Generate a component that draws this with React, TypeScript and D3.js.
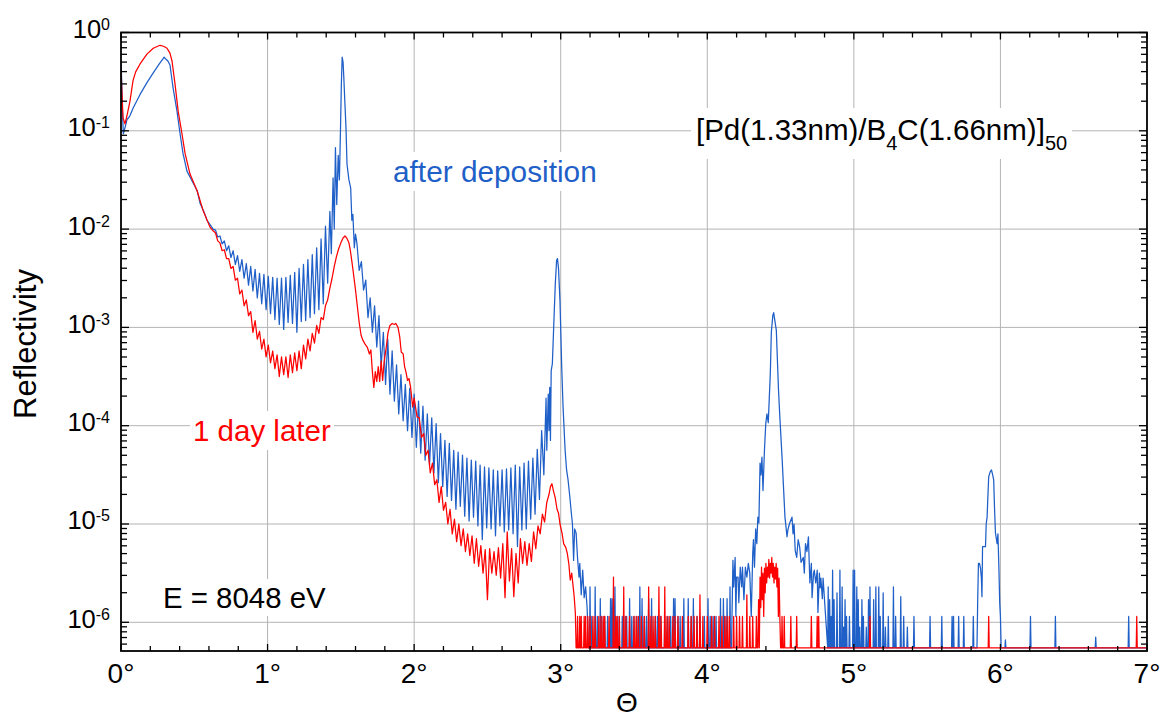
import React, { useLayoutEffect, useRef, useState } from "react";
import * as d3 from "d3";

type P = [number, number];

// ---------- data: theta (deg), log10(reflectivity) ----------
const FLOOR_EXP = -6.26; // zero-count level of the detector

const xTickLabels = ["0°", "1°", "2°", "3°", "4°", "5°", "6°", "7°"];
const yTickExponents = [0, -1, -2, -3, -4, -5, -6];

// after deposition (blue)
const blueLow: P[] = [[0.000,-0.30],[0.005,-0.50],[0.010,-0.80],[0.016,-1.03],[0.027,-0.97],[0.040,-0.89],[0.060,-0.85],[0.082,-0.77],[0.130,-0.63],[0.177,-0.51],[0.220,-0.41],[0.266,-0.31],[0.285,-0.27],[0.294,-0.25],[0.305,-0.27],[0.320,-0.29],[0.334,-0.33],[0.345,-0.45],[0.355,-0.56],[0.382,-0.80],[0.403,-1.03],[0.423,-1.23],[0.450,-1.41],[0.485,-1.51],[0.520,-1.61],[0.540,-1.74],[0.565,-1.82],[0.587,-1.91],[0.610,-1.96],[0.628,-2.00]];
const blueFringe1Start = 0.645, blueFringe1Step = 0.015;
const blueFringe1: number[] = [-2.01,-2.08,-2.07,-2.15,-2.12,-2.22,-2.17,-2.29,-2.22,-2.36,-2.27,-2.43,-2.31,-2.50,-2.35,-2.57,-2.38,-2.63,-2.41,-2.70,-2.45,-2.76,-2.46,-2.82,-2.48,-2.86,-2.49,-2.92,-2.50,-2.97,-2.50,-3.02,-2.49,-2.95,-2.47,-2.96,-2.44,-3.05,-2.40,-2.94,-2.36,-2.93,-2.31,-2.90,-2.26,-2.86,-2.19,-2.82,-2.10,-2.76,-1.97,-2.55,-1.82];
const bluePeak1: P[] = [[1.435,-2.25],[1.447,-1.48],[1.455,-2.00],[1.463,-1.17],[1.472,-1.75],[1.482,-1.25],[1.490,-1.50],[1.497,-1.03],[1.503,-0.55],[1.509,-0.25],[1.515,-0.30],[1.520,-0.45],[1.527,-0.70],[1.535,-0.97],[1.542,-1.34],[1.555,-1.50],[1.567,-1.58],[1.575,-1.91],[1.582,-1.85],[1.592,-2.19],[1.600,-2.05]];
const blueFringe2Start = 1.61, blueFringe2Step = 0.015;
const blueFringe2: number[] = [-2.15,-2.42,-2.33,-2.62,-2.52,-2.90,-2.70,-3.05,-2.78,-3.20,-2.88,-3.40,-3.05,-3.58,-3.12,-3.68,-3.24,-3.75,-3.38,-3.88,-3.48,-3.95,-3.58,-4.05,-3.62,-4.12,-3.68,-4.22,-3.75,-4.28,-3.80,-4.35,-3.88,-4.40,-3.92,-4.48,-3.98,-4.58,-4.08,-4.62,-4.15,-4.72,-4.18,-4.76,-4.25,-4.85,-4.27,-4.82,-4.30,-4.92,-4.33,-4.97,-4.35,-4.93,-4.36,-5.02,-4.40,-5.16,-4.42,-5.04,-4.43,-5.05,-4.45,-5.12,-4.46,-5.02,-4.45,-5.08,-4.44,-5.06,-4.43,-5.10,-4.40,-5.23,-4.42,-5.06,-4.38,-5.05,-4.36,-4.95,-4.33,-4.90,-4.24,-4.75,-4.05,-4.50,-3.72];
const bluePeak2: P[] = [[2.905,-4.25],[2.915,-3.68],[2.920,-4.05],[2.925,-3.61],[2.930,-4.15],[2.935,-3.44],[2.943,-3.37],[2.952,-3.00],[2.963,-2.56],[2.972,-2.32],[2.978,-2.30],[2.985,-2.40],[2.995,-2.73],[3.007,-3.41],[3.016,-3.81],[3.030,-4.25],[3.040,-4.45],[3.050,-4.55],[3.062,-4.72],[3.070,-4.85],[3.080,-5.00],[3.088,-5.37],[3.095,-5.05],[3.105,-5.09],[3.115,-5.35],[3.125,-5.54],[3.130,-5.40],[3.140,-5.72],[3.150,-5.47],[3.160,-5.75],[3.170,-5.64],[3.180,-5.85],[3.190,-6.26]];
const blueNoise1: P[] = [[3.200,-5.64],[3.212,-5.94],[3.235,-5.64],[3.250,-5.94],[3.270,-5.76],[3.280,-5.94],[3.300,-5.94],[3.320,-5.94],[3.340,-5.76],[3.350,-5.76],[3.360,-5.76],[3.370,-5.64],[3.390,-5.94],[3.420,-5.94],[3.440,-5.94],[3.450,-5.94],[3.470,-5.76],[3.485,-5.94],[3.500,-5.94],[3.520,-5.94],[3.540,-5.64],[3.555,-5.76],[3.570,-5.94],[3.585,-5.94],[3.600,-5.76],[3.620,-5.76],[3.645,-5.94],[3.660,-5.94],[3.680,-5.94],[3.710,-5.94],[3.730,-5.94],[3.750,-5.94],[3.770,-5.76],[3.780,-5.76],[3.800,-5.94],[3.815,-5.94],[3.840,-5.76],[3.870,-5.76],[3.890,-5.94],[3.905,-5.76],[3.930,-5.94],[3.950,-5.94],[3.980,-5.94],[4.005,-5.76],[4.020,-5.94],[4.040,-5.94],[4.060,-5.94],[4.090,-5.76],[4.110,-5.76],[4.120,-5.94],[4.135,-5.76],[4.155,-5.64]];
const bluePeak3: P[] = [[4.165,-6.26],[4.175,-5.37],[4.180,-5.64],[4.190,-5.34],[4.195,-5.94],[4.200,-5.54],[4.210,-5.54],[4.215,-5.80],[4.225,-5.44],[4.235,-5.64],[4.240,-5.44],[4.250,-5.77],[4.260,-5.44],[4.270,-5.54],[4.280,-5.40],[4.290,-5.50],[4.300,-5.94],[4.310,-5.30],[4.315,-5.16],[4.322,-5.44],[4.330,-5.05],[4.338,-5.20],[4.345,-4.93],[4.352,-4.99],[4.360,-4.38],[4.366,-4.50],[4.373,-4.32],[4.380,-4.66],[4.390,-4.25],[4.399,-3.98],[4.407,-3.88],[4.416,-3.97],[4.430,-3.47],[4.437,-3.05],[4.447,-2.88],[4.453,-2.85],[4.460,-2.92],[4.471,-3.03],[4.486,-3.64],[4.495,-3.91],[4.510,-4.32],[4.530,-4.93],[4.544,-5.13],[4.550,-5.06],[4.560,-5.00],[4.578,-4.93],[4.585,-5.10],[4.592,-5.00],[4.600,-5.27],[4.610,-5.34],[4.620,-5.16],[4.630,-5.23],[4.640,-5.39],[4.655,-5.34],[4.662,-5.50],[4.670,-5.20],[4.680,-5.28],[4.690,-5.13],[4.700,-5.60],[4.710,-5.40],[4.715,-5.75],[4.725,-5.50],[4.730,-5.47],[4.740,-5.60],[4.750,-5.47],[4.755,-5.90],[4.765,-5.50],[4.770,-5.65],[4.775,-5.55],[4.785,-5.76],[4.790,-5.55]];
const blueNoise2: P[] = [[4.825,-5.64],[4.835,-5.77],[4.845,-5.94],[4.855,-5.47],[4.865,-5.77],[4.885,-5.70],[4.905,-5.47],[4.920,-5.64],[4.930,-6.05],[4.940,-5.77],[4.950,-5.94],[4.970,-5.94],[4.995,-5.47],[5.005,-5.47],[5.020,-5.64],[5.030,-5.77],[5.040,-6.05],[5.055,-5.77],[5.065,-5.94],[5.085,-6.05],[5.100,-5.77],[5.110,-5.64],[5.135,-5.77],[5.150,-5.64],[5.170,-5.64],[5.180,-5.94],[5.200,-5.70],[5.215,-6.05],[5.235,-5.94],[5.270,-5.64],[5.285,-5.94],[5.320,-5.74],[5.340,-5.94],[5.365,-6.05],[5.410,-5.94],[5.520,-5.94],[5.600,-5.94],[5.670,-5.94],[5.680,-5.94],[5.715,-5.94],[5.750,-5.94],[5.815,-5.94]];
const bluePeak4: P[] = [[5.840,-6.26],[5.845,-5.77],[5.850,-5.40],[5.857,-5.40],[5.864,-5.45],[5.870,-5.55],[5.874,-5.74],[5.878,-5.23],[5.890,-5.23],[5.898,-5.23],[5.903,-5.00],[5.909,-4.93],[5.915,-4.70],[5.920,-4.52],[5.930,-4.47],[5.939,-4.45],[5.947,-4.50],[5.954,-4.55],[5.960,-4.85],[5.966,-5.09],[5.972,-5.15],[5.977,-5.20],[5.983,-5.10],[5.990,-5.47],[5.995,-5.80],[6.000,-5.94],[6.005,-6.26]];
const blueNoise3: P[] = [[6.034,-6.18],[6.205,-5.94],[6.375,-5.94],[6.650,-6.15],[6.875,-5.94]];

// 1 day later (red)
const redLow: P[] = [[0.000,-0.38],[0.006,-0.60],[0.014,-0.87],[0.027,-0.93],[0.040,-0.85],[0.061,-0.70],[0.082,-0.49],[0.100,-0.40],[0.130,-0.32],[0.177,-0.22],[0.220,-0.16],[0.266,-0.13],[0.290,-0.14],[0.314,-0.16],[0.334,-0.21],[0.348,-0.29],[0.369,-0.53],[0.390,-0.80],[0.416,-1.03],[0.437,-1.23],[0.471,-1.44],[0.519,-1.61],[0.560,-1.81],[0.607,-1.98],[0.630,-2.02]];
const redFringe1Start = 0.645, redFringe1Step = 0.015;
const redFringe1: number[] = [-2.04,-2.12,-2.14,-2.22,-2.21,-2.30,-2.30,-2.40,-2.38,-2.52,-2.50,-2.66,-2.62,-2.78,-2.72,-2.88,-2.84,-3.05,-2.93,-3.12,-3.04,-3.22,-3.12,-3.30,-3.18,-3.36,-3.24,-3.42,-3.28,-3.50,-3.30,-3.48,-3.30,-3.51,-3.28,-3.46,-3.26,-3.44,-3.24,-3.42,-3.18,-3.32,-3.12,-3.24,-3.06,-3.16,-2.98,-3.06,-2.90,-2.92,-2.78,-2.72,-2.60];
const redPeak1: P[] = [[1.440,-2.50],[1.455,-2.38],[1.470,-2.28],[1.485,-2.20],[1.500,-2.14],[1.515,-2.09],[1.528,-2.07],[1.540,-2.09],[1.555,-2.14],[1.565,-2.22],[1.578,-2.36],[1.590,-2.50],[1.600,-2.62],[1.612,-2.78],[1.625,-2.95],[1.638,-3.08],[1.650,-3.13],[1.665,-3.17],[1.680,-3.20],[1.695,-3.27],[1.705,-3.23],[1.715,-3.45],[1.725,-3.61],[1.735,-3.45],[1.745,-3.55],[1.755,-3.40],[1.765,-3.55],[1.775,-3.34],[1.785,-3.54],[1.795,-3.35],[1.810,-3.20],[1.822,-3.05],[1.835,-2.98],[1.850,-2.96],[1.865,-2.97],[1.875,-2.96],[1.890,-3.00],[1.902,-3.10],[1.912,-3.25],[1.925,-3.27],[1.935,-3.40],[1.945,-3.46],[1.955,-3.54],[1.965,-3.52],[1.975,-3.60],[1.990,-3.81],[2.000,-3.72],[2.020,-3.91]];
const redFringe2Start = 2.035, redFringe2Step = 0.015;
const redFringe2: number[] = [-3.92,-4.12,-4.08,-4.30,-4.25,-4.48,-4.38,-4.60,-4.55,-4.78,-4.62,-4.86,-4.78,-5.00,-4.85,-5.10,-4.95,-5.18,-5.00,-5.22,-5.05,-5.28,-5.10,-5.32,-5.12,-5.40,-5.15,-5.43,-5.22,-5.50,-5.26,-5.77,-5.25,-5.50,-5.28,-5.52,-5.24,-5.55,-5.20,-5.75,-5.08,-5.58,-5.25,-5.74,-5.30,-5.60,-5.15,-5.40,-5.18,-5.42,-5.20,-5.38,-5.08,-5.25,-5.02,-5.10,-4.90,-4.98,-4.78];
const redPeak2: P[] = [[2.920,-4.70],[2.930,-4.62],[2.940,-4.59],[2.950,-4.66],[2.962,-4.73],[2.975,-4.85],[2.985,-4.89],[2.995,-5.00],[3.010,-5.10],[3.020,-5.20],[3.035,-5.24],[3.045,-5.30],[3.055,-5.40],[3.065,-5.57],[3.075,-5.50],[3.085,-5.64],[3.092,-5.74],[3.100,-5.91],[3.105,-6.26]];
const redNoise1: P[] = [[3.115,-5.94],[3.130,-5.94],[3.140,-5.94],[3.160,-5.94],[3.170,-5.94],[3.185,-5.94],[3.200,-5.94],[3.220,-5.94],[3.235,-5.94],[3.260,-5.94],[3.275,-5.94],[3.290,-5.94],[3.300,-5.94],[3.330,-5.94],[3.360,-5.54],[3.375,-5.94],[3.385,-5.94],[3.400,-5.94],[3.430,-5.64],[3.445,-5.94],[3.470,-5.94],[3.500,-5.94],[3.515,-5.94],[3.530,-5.94],[3.550,-5.94],[3.570,-5.94],[3.600,-5.64],[3.615,-5.94],[3.630,-5.94],[3.645,-5.94],[3.670,-5.64],[3.685,-5.94],[3.710,-5.64],[3.725,-5.94],[3.740,-5.94],[3.765,-5.94],[3.780,-5.94],[3.800,-5.94],[3.830,-5.94],[3.870,-5.94],[3.890,-5.94],[3.910,-5.94],[3.930,-5.94],[3.950,-5.72],[3.970,-5.94],[4.000,-5.94],[4.030,-5.94],[4.050,-5.94],[4.080,-5.94],[4.100,-5.94],[4.120,-5.94],[4.135,-5.94],[4.150,-5.94],[4.180,-5.94],[4.200,-5.94],[4.220,-5.94],[4.240,-5.94],[4.270,-5.72],[4.290,-5.94],[4.310,-5.94],[4.335,-5.94]];
const redPeak3: P[] = [[4.345,-6.26],[4.350,-5.77],[4.355,-6.26],[4.360,-5.54],[4.365,-5.85],[4.370,-5.44],[4.375,-5.77],[4.380,-5.50],[4.385,-5.94],[4.390,-5.45],[4.395,-5.70],[4.400,-5.40],[4.405,-5.60],[4.410,-5.44],[4.415,-5.54],[4.420,-5.36],[4.425,-5.55],[4.430,-5.40],[4.435,-5.50],[4.440,-5.34],[4.445,-5.54],[4.450,-5.40],[4.455,-5.60],[4.460,-5.44],[4.465,-5.56],[4.470,-5.40],[4.475,-5.64],[4.480,-5.45],[4.485,-5.94],[4.490,-5.55],[4.495,-5.94],[4.500,-6.26]];
const redNoise2: P[] = [[4.510,-5.94],[4.525,-5.94],[4.570,-5.94],[4.610,-5.94],[4.710,-5.94],[4.750,-5.94],[4.760,-5.94],[5.110,-5.94],[5.920,-5.94],[6.930,-5.94]];

// ---------- helpers ----------
function scan(start: number, step: number, values: number[]): P[] {
  return values.map((v, i) => [Math.round((start + i * step) * 10000) / 10000, v] as P);
}
function counts(list: P[]): P[] {
  const out: P[] = [];
  list.forEach(([t, v]) => {
    out.push([t - 0.0035, FLOOR_EXP], [t, v], [t + 0.0035, FLOOR_EXP]);
  });
  return out;
}

const blueSeries: P[] = [
  ...blueLow,
  ...scan(blueFringe1Start, blueFringe1Step, blueFringe1),
  ...bluePeak1,
  ...scan(blueFringe2Start, blueFringe2Step, blueFringe2),
  ...bluePeak2,
  ...counts(blueNoise1),
  ...bluePeak3,
  ...counts(blueNoise2),
  ...bluePeak4,
  ...counts(blueNoise3),
  [7.0, FLOOR_EXP],
];
const redSeries: P[] = [
  ...redLow,
  ...scan(redFringe1Start, redFringe1Step, redFringe1),
  ...redPeak1,
  ...scan(redFringe2Start, redFringe2Step, redFringe2),
  ...redPeak2,
  ...counts(redNoise1),
  ...redPeak3,
  ...counts(redNoise2),
  [7.0, FLOOR_EXP],
];

const W = 1161, H = 719;
const PL = 121, PR = 1147, PT = 32.5, PB = 651;
const FONT = "'Liberation Sans', Arial, sans-serif";
const BLUE = "#1f5fc8";
const RED = "#ff0000";

function BoxedText(props: any) {
  const { pad = 3, children, ...rest } = props;
  const ref = useRef<SVGTextElement>(null);
  const [bb, setBb] = useState<{ x: number; y: number; w: number; h: number } | null>(null);
  useLayoutEffect(() => {
    if (ref.current) {
      const b = ref.current.getBBox();
      setBb({ x: b.x, y: b.y, w: b.width, h: b.height });
    }
  }, []);
  return (
    <g>
      {bb && <rect x={bb.x - pad} y={bb.y - pad} width={bb.w + 2 * pad} height={bb.h + 2 * pad} fill="white" />}
      <text ref={ref} {...rest}>{children}</text>
    </g>
  );
}

export default function App() {
  const x = d3.scaleLinear().domain([0, 7]).range([PL, PR]);
  const y = d3.scaleLog().domain([Math.pow(10, -6.292), 1]).range([PB, PT]);
  const line = d3.line<P>().x((d) => x(d[0])).y((d) => y(Math.pow(10, d[1])));

  const xMinor = d3.range(0, 35 + 1).map((i) => i * 0.2);
  const yMinor: number[] = [];
  for (let e = -7; e <= 0; e++) for (let m = 2; m <= 9; m++) {
    const v = m * Math.pow(10, e);
    if (v > Math.pow(10, -6.292) && v < 1) yMinor.push(v);
  }
  const decades = yTickExponents.map((e) => Math.pow(10, e));
  const gridX = d3.range(1, 7);
  const gridY = yTickExponents.filter((e) => e < 0).map((e) => Math.pow(10, e));

  return (
    <svg width={W} height={H} style={{ position: "absolute", left: 0, top: 0, background: "white" }} fontFamily={FONT}>
      <defs>
        <clipPath id="plotClip">
          <rect x={PL} y={PT} width={PR - PL} height={PB - PT} />
        </clipPath>
      </defs>
      <rect x={0} y={0} width={W} height={H} fill="white" />
      {/* grid */}
      <g stroke="#b4b4b4" strokeWidth={1}>
        {gridX.map((g) => <line key={"gx" + g} x1={x(g)} x2={x(g)} y1={PT} y2={PB} />)}
        {gridY.map((g, i) => <line key={"gy" + i} x1={PL} x2={PR} y1={y(g)} y2={y(g)} />)}
      </g>
      {/* annotations */}
      <BoxedText x={696} y={140} fontSize={29.5} fill="#000" pad={5}>
        <tspan>[Pd(1.33nm)/B</tspan>
        <tspan fontSize={20} dy={10}>4</tspan>
        <tspan dy={-10}>C(1.66nm)]</tspan>
        <tspan fontSize={20} dy={10}>50</tspan>
      </BoxedText>
      <BoxedText x={393} y={182} fontSize={29.8} fill={BLUE} pad={3}>after deposition</BoxedText>
      <BoxedText x={193} y={441} fontSize={29.5} fill={RED} pad={3}>1 day later</BoxedText>
      <BoxedText x={163} y={608} fontSize={29.4} fill="#000" pad={2}>E = 8048 eV</BoxedText>
      {/* data */}
      <g clipPath="url(#plotClip)" fill="none" strokeLinejoin="round">
        <path d={line(blueSeries) || ""} stroke={BLUE} strokeWidth={1.25} />
        <path d={line(redSeries) || ""} stroke={RED} strokeWidth={1.25} />
      </g>
      {/* ticks */}
      <g stroke="#000" strokeWidth={1.3}>
        {xMinor.map((t, i) => {
          const len = Math.abs(t - Math.round(t)) < 1e-6 ? 7 : 5;
          return (
            <g key={"xt" + i}>
              <line x1={x(t)} x2={x(t)} y1={PB} y2={PB - len} />
              <line x1={x(t)} x2={x(t)} y1={PT} y2={PT + len} />
            </g>
          );
        })}
        {yMinor.map((v, i) => (
          <g key={"ym" + i}>
            <line x1={PL} x2={PL + 6} y1={y(v)} y2={y(v)} />
            <line x1={PR} x2={PR - 6} y1={y(v)} y2={y(v)} />
          </g>
        ))}
        {decades.map((v, i) => (
          <g key={"yd" + i}>
            <line x1={PL} x2={PL + 8} y1={y(v)} y2={y(v)} />
            <line x1={PR} x2={PR - 8} y1={y(v)} y2={y(v)} />
          </g>
        ))}
      </g>
      <rect x={PL} y={PT} width={PR - PL} height={PB - PT} fill="none" stroke="#000" strokeWidth={1.8} />
      {/* tick labels */}
      {xTickLabels.map((lab, i) => (
        <text key={"xl" + i} x={x(i)} y={683} fontSize={28} textAnchor="middle" fill="#000">{lab}</text>
      ))}
      {yTickExponents.map((e) => (
        <text key={"yl" + e} x={110} y={y(Math.pow(10, e)) + 5.5} fontSize={25.5} textAnchor="end" fill="#000">
          <tspan>10</tspan>
          <tspan fontSize={16} dy={-8}>{String(e)}</tspan>
        </text>
      ))}
      {/* axis titles */}
      <text x={627} y={712} fontSize={28} textAnchor="middle" fill="#000">Θ</text>
      <text transform="translate(36,344) rotate(-90)" fontSize={31} textAnchor="middle" fill="#000">Reflectivity</text>
    </svg>
  );
}
